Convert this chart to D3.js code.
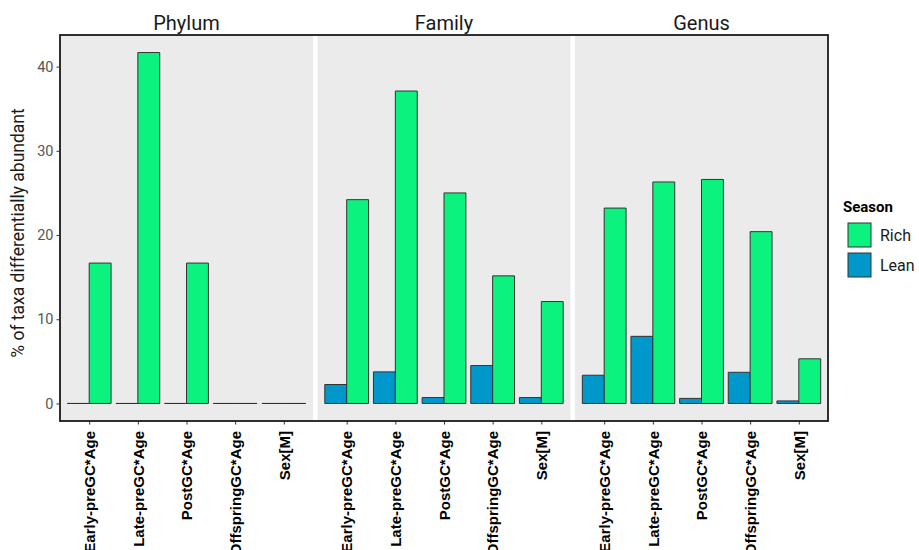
<!DOCTYPE html>
<html>
<head>
<meta charset="utf-8">
<script src="https://cdn.jsdelivr.net/npm/d3@7"></script>
<style>
  html, body { margin: 0; padding: 0; background: #ffffff; }
  svg { display: block; }
</style>
</head>
<body>
<svg id="chart" width="919" height="550"></svg>
<script>
// Facets, categories and values (% of taxa differentially abundant)
const facets = ["Phylum", "Family", "Genus"];
const categories = ["Early-preGC*Age", "Late-preGC*Age", "PostGC*Age", "OffspringGC*Age", "Sex[M]"];
const seasons = ["Lean", "Rich"];          // dodge order within each category
const legendOrder = ["Rich", "Lean"];

const phylumLean = [0, 0, 0, 0, 0];
const phylumRich = [16.67, 41.67, 16.67, 0, 0];
const familyLean = [2.25, 3.75, 0.7, 4.5, 0.7];
const familyRich = [24.2, 37.1, 25.0, 15.15, 12.1];
const genusLean = [3.35, 7.97, 0.6, 3.7, 0.3];
const genusRich = [23.2, 26.3, 26.6, 20.4, 5.3];

const yTicks = [0, 10, 20, 30, 40];

const seriesByFacet = {
  Phylum: { Lean: phylumLean, Rich: phylumRich },
  Family: { Lean: familyLean, Rich: familyRich },
  Genus:  { Lean: genusLean,  Rich: genusRich }
};

const colors = { Rich: "#0cf27f", Lean: "#0098cb" };

const svg = d3.select("#chart");

const plot = { left: 60, right: 828, top: 35, bottom: 421 };
const gap = 4.5;
const panelW = (plot.right - plot.left - gap * (facets.length - 1)) / facets.length;

// y scale with 5% expansion on both ends
const maxVal = d3.max([phylumRich, familyRich, genusRich, phylumLean, familyLean, genusLean].flat());
const pad = maxVal * 0.05;
const y = d3.scaleLinear().domain([-pad, maxVal + pad]).range([plot.bottom, plot.top]);

// panel backgrounds
svg.append("rect")
  .attr("x", plot.left).attr("y", plot.top)
  .attr("width", plot.right - plot.left).attr("height", plot.bottom - plot.top)
  .attr("fill", "#ebebeb");

facets.forEach((f, i) => {
  const x0 = plot.left + i * (panelW + gap);
  if (i > 0) {
    svg.append("rect")
      .attr("x", x0 - gap).attr("y", plot.top)
      .attr("width", gap).attr("height", plot.bottom - plot.top)
      .attr("fill", "#ffffff");
  }

  const xCat = d3.scalePoint().domain(categories).range([x0, x0 + panelW]).padding(0.6);
  const step = xCat.step();
  const xSub = d3.scaleBand().domain(seasons).range([-step * 0.45, step * 0.45]);

  // strip label
  svg.append("text")
    .attr("x", x0 + panelW / 2).attr("y", 30)
    .attr("text-anchor", "middle")
    .attr("font-family", "Roboto, 'Noto Sans', sans-serif")
    .attr("font-size", 20)
    .attr("fill", "#1a1a1a")
    .text(f);

  // bars (drawn as paths so zero-height bars still show their outline)
  const g = svg.append("g");
  categories.forEach((c, ci) => {
    seasons.forEach(s => {
      const v = seriesByFacet[f][s][ci];
      const bx = xCat(c) + xSub(s);
      const bw = xSub.bandwidth();
      const y0 = y(0), y1 = y(v);
      g.append("path")
        .attr("d", `M${bx},${y0}V${y1}H${bx + bw}V${y0}Z`)
        .attr("fill", colors[s])
        .attr("stroke", "#333333")
        .attr("stroke-width", 1);
    });
  });

  // x axis
  const xAxis = d3.axisBottom(xCat).tickSize(3.5).tickPadding(3);
  const ax = svg.append("g").attr("transform", `translate(0,${plot.bottom})`).call(xAxis);
  ax.select(".domain").remove();
  ax.selectAll(".tick line").attr("stroke", "#333333").attr("stroke-width", 1);
  ax.selectAll(".tick text")
    .attr("transform", "rotate(-90)")
    .attr("x", -10).attr("y", 0).attr("dy", "0.35em")
    .attr("text-anchor", "end")
    .attr("font-family", "'Liberation Sans', Arial, sans-serif")
    .attr("font-weight", "bold")
    .attr("font-size", 15)
    .attr("fill", "#000000");
});

// outer border
svg.append("rect")
  .attr("x", plot.left).attr("y", plot.top)
  .attr("width", plot.right - plot.left).attr("height", plot.bottom - plot.top)
  .attr("fill", "none").attr("stroke", "#1a1a1a").attr("stroke-width", 1.8);

// y axis
const yAxis = d3.axisLeft(y).tickValues(yTicks).tickSize(3.5).tickPadding(3);
const ay = svg.append("g").attr("transform", `translate(${plot.left},0)`).call(yAxis);
ay.select(".domain").remove();
ay.selectAll(".tick line").attr("stroke", "#333333");
ay.selectAll(".tick text")
  .attr("font-family", "Roboto, 'Noto Sans', sans-serif")
  .attr("font-size", 14.5)
  .attr("fill", "#555555");

// y title
svg.append("text")
  .attr("transform", `translate(24,${(plot.top + plot.bottom) / 2 + 5}) rotate(-90)`)
  .attr("text-anchor", "middle")
  .attr("font-family", "Roboto, 'Noto Sans', sans-serif")
  .attr("font-size", 17.5)
  .attr("fill", "#1a1a1a")
  .text("% of taxa differentially abundant");

// legend
const lg = svg.append("g").attr("transform", "translate(843,0)");
lg.append("text")
  .attr("x", 0).attr("y", 212)
  .attr("font-family", "Roboto, 'Noto Sans', sans-serif")
  .attr("font-weight", "bold")
  .attr("font-size", 15)
  .attr("fill", "#000000")
  .text("Season");
legendOrder.forEach((s, i) => {
  const ky = 223 + i * 30;
  lg.append("rect")
    .attr("x", 5).attr("y", ky).attr("width", 23).attr("height", 24)
    .attr("fill", colors[s]).attr("stroke", "#333333").attr("stroke-width", 1);
  lg.append("text")
    .attr("x", 37).attr("y", ky + 12).attr("dy", "0.36em")
    .attr("font-family", "Roboto, 'Noto Sans', sans-serif")
    .attr("font-size", 16)
    .attr("fill", "#1a1a1a")
    .text(s);
});
</script>
</body>
</html>
